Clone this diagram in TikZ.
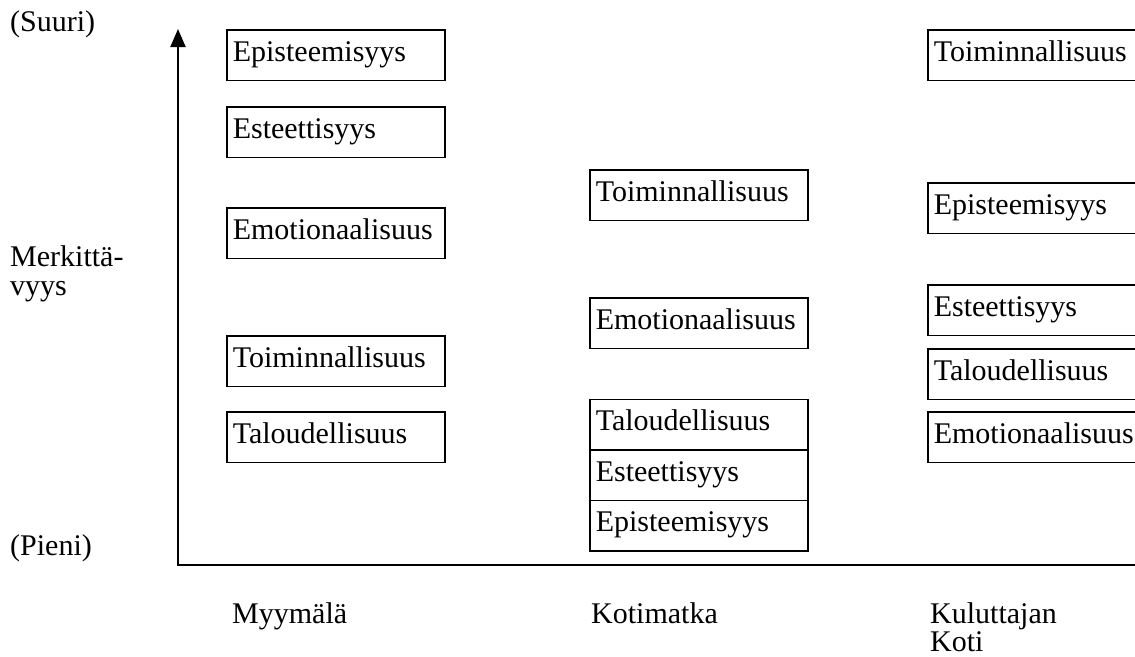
\documentclass[tikz,border=0pt]{standalone}
\usepackage{fontspec}
\setmainfont{Liberation Serif}
\usetikzlibrary{arrows.meta}
\begin{document}
\begin{tikzpicture}[x=1pt,y=-1pt,
  valbox/.style={draw, line width=1.5pt, anchor=north west, minimum width=218pt,
    minimum height=50.5pt, inner xsep=6pt, text height=21pt, text depth=9pt,
    text width=206pt, align=left, font=\fontsize{30pt}{34pt}\selectfont},
  lbl/.style={anchor=base west, inner sep=0pt, font=\fontsize{30pt}{34pt}\selectfont},
  axis/.style={line width=2pt}]
\useasboundingbox (0,0) rectangle (1135,656);
\clip (0,0) rectangle (1135,656);
% axes
\coordinate (origin) at (178,565);
\coordinate (ytop) at (178,29);
\coordinate (xend) at (1140,565);
\draw[axis, -{Triangle[width=15pt,length=18pt]}] (origin) -- (ytop);
\draw[axis] ([xshift=-1pt]origin) -- (xend);
% axis labels
\node[lbl] (suuri) at (10,31) {(Suuri)};
\node[lbl] (merk1) at (10,266) {Merkittä-};
\node[lbl] (merk2) at (10,295) {vyys};
\node[lbl] (pieni) at (10,555) {(Pieni)};
\node[lbl] (myy) at (232,623) {Myymälä};
\node[lbl] (koti) at (591,623) {Kotimatka};
\node[lbl] (kul1) at (930,623) {Kuluttajan};
\node[lbl] (kul2) at (930,651) {Koti};
% left column
\node[valbox] (a1) at (226,29) {Episteemisyys};
\node[valbox] (a2) at (226,106) {Esteettisyys};
\node[valbox] (a3) at (226,207) {Emotionaalisuus};
\node[valbox] (a4) at (226,335) {Toiminnallisuus};
\node[valbox] (a5) at (226,411) {Taloudellisuus};
% middle column
\node[valbox] (b1) at (589,169) {Toiminnallisuus};
\node[valbox] (b2) at (589,297) {Emotionaalisuus};
\node[valbox] (b3) at (589,398.5) {Taloudellisuus};
\node[valbox] (b4) at (589,449) {Esteettisyys};
\node[valbox] (b5) at (589,499.5) {Episteemisyys};
% right column
\node[valbox] (c1) at (927,29) {Toiminnallisuus};
\node[valbox] (c2) at (927,182) {Episteemisyys};
\node[valbox] (c3) at (927,284) {Esteettisyys};
\node[valbox] (c4) at (927,348) {Taloudellisuus};
\node[valbox] (c5) at (927,411) {Emotionaalisuus};
\end{tikzpicture}
\end{document}
